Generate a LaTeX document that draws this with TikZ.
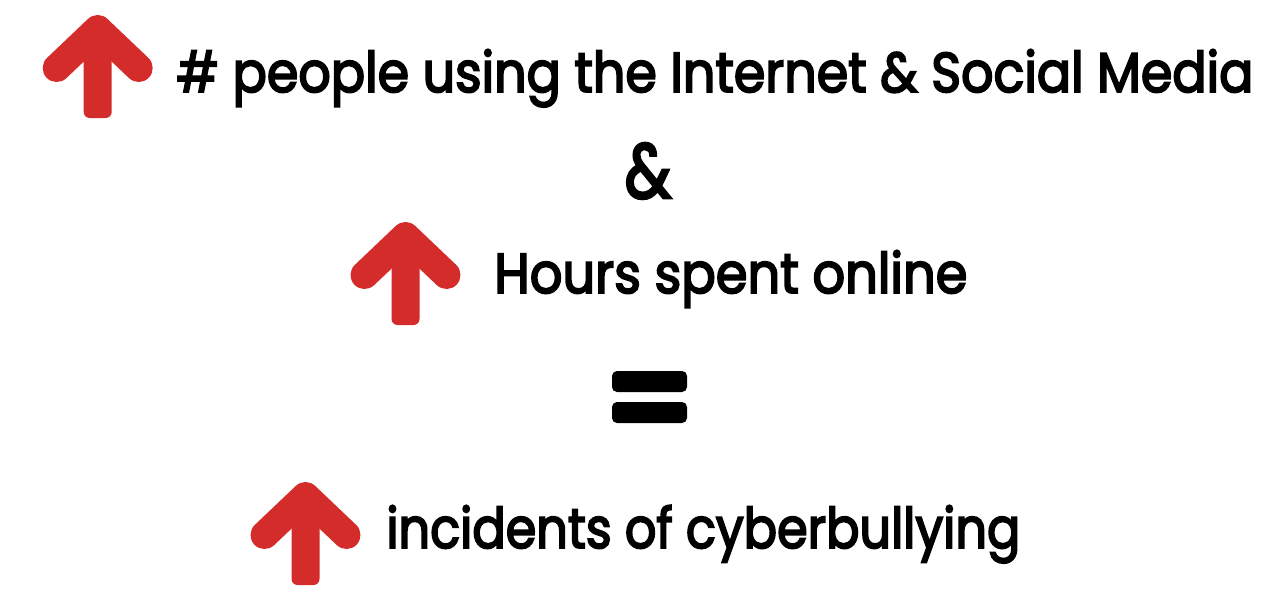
\documentclass[tikz,border=0pt]{standalone}
\usepackage{fontspec}
\setmainfont{Poppins}
\newfontfamily\medfont{Poppins}[FakeBold=3.5]
\usepackage{graphicx}
\usetikzlibrary{positioning}
\definecolor{upred}{RGB}{211,44,42}

% squeeze a line of text to a given width, keeping its height
\newcommand{\fitw}[2]{\resizebox{#1}{\height}{#2}}

\begin{document}
\begin{tikzpicture}[x=0.5pt, y=-0.5pt,
    shaft/.style={fill=upred, rounded corners=3pt},
    chev/.style={draw=upred, line width=14pt, line cap=round, line join=round},
    txt/.style={inner sep=0pt, anchor=base west, font=\fontsize{28}{32}\selectfont\medfont},
    bar/.style={fill=black, rounded corners=2.5pt}]
  \useasboundingbox (0,0) rectangle (1274,596);

  % red up arrows: apex x / top y
  \foreach \cx/\ty in {97.7/15, 405.5/222, 305.5/482} {
    \fill[shaft] (\cx-14,\ty+20) rectangle (\cx+14,\ty+103);
    \draw[chev] (\cx-41,\ty+53) -- (\cx,\ty+14) -- (\cx+41,\ty+53);
  }

  % lines of text
  \node[txt] (internet) at (176,92) {\fitw{538.5pt}{\# people using the Internet \& Social Media}};
  \node[inner sep=0pt, anchor=base] (amp) at (648,198) {\resizebox{23.3pt}{27.5pt}{\medfont\&}};
  \node[txt] (hours) at (494,293) {\fitw{236.5pt}{Hours spent online}};
  \node[txt] (incidents) at (386,548) {\fitw{317pt}{incidents of cyberbullying}};

  % equals sign
  \fill[bar] (612,371) rectangle (687,392);
  \fill[bar] (612,402) rectangle (687,423);
\end{tikzpicture}
\end{document}
